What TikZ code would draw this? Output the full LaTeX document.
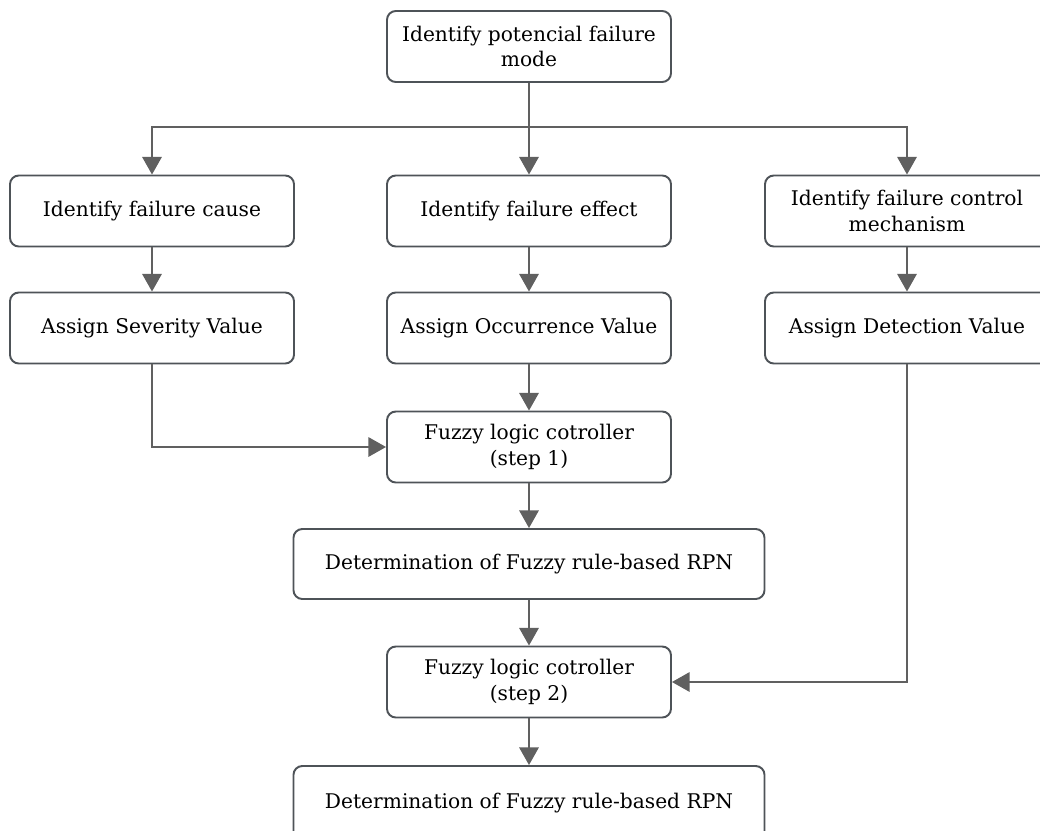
\documentclass[tikz,border=0pt]{standalone}
\usepackage{fontspec}
\setmainfont{DejaVu Serif}
\usetikzlibrary{positioning, arrows.meta}
\definecolor{boxline}{HTML}{4E5358}
\definecolor{arrline}{HTML}{606060}

\tikzset{
    stepbox/.style={draw=boxline, line width=1.1pt, rounded corners=5pt, fill=white,
        minimum width=5.68cm, minimum height=1.42cm, align=center,
        font=\fontsize{11.5}{14.5}\selectfont},
    widebox/.style={stepbox, minimum width=9.42cm, minimum height=1.4cm},
    arr/.style={draw=arrline, line width=1.1pt, -{Triangle[length=10pt,width=11pt]}}
}

\begin{document}
\begin{tikzpicture}
        \useasboundingbox (0,0) rectangle (20.8,-16.62);
        \clip (0,0) rectangle (20.8,-16.62);

        % first step
        \node[stepbox] (mode) at (10.58,-0.93) {Identify potencial failure\\mode};

        % identify row
        \node[stepbox] (cause) at (3.04,-4.22) {Identify failure cause};
        \node[stepbox] (effect) at (10.58,-4.22) {Identify failure effect};
        \node[stepbox] (control) at (18.14,-4.22) {Identify failure control\\mechanism};

        % assign row
        \node[stepbox] (sev) at (3.04,-6.56) {Assign Severity Value};
        \node[stepbox] (occ) at (10.58,-6.56) {Assign Occurrence Value};
        \node[stepbox] (det) at (18.14,-6.56) {Assign Detection Value};

        % fuzzy part
        \node[stepbox] (flc1) at (10.58,-8.94) {Fuzzy logic cotroller\\(step 1)};
        \node[widebox] (rpn1) at (10.58,-11.28) {Determination of Fuzzy rule-based RPN};
        \node[stepbox] (flc2) at (10.58,-13.64) {Fuzzy logic cotroller\\(step 2)};
        \node[widebox, minimum height=1.5cm] (rpn2) at (10.58,-16.07) {\raisebox{0.5ex}{Determination of Fuzzy rule-based RPN}};

        % arrows
        \coordinate (split) at (10.58,-2.54);
        \draw[arr] (mode) -- (effect);
        \draw[arr] (split) -| (cause);
        \draw[arr] (split) -| (control);
        \draw[arr] (cause) -- (sev);
        \draw[arr] (effect) -- (occ);
        \draw[arr] (control) -- (det);
        \draw[arr] (occ) -- (flc1);
        \draw[arr] (sev) |- (flc1);
        \draw[arr] (flc1) -- (rpn1);
        \draw[arr] (rpn1) -- (flc2);
        \draw[arr] (det) |- (flc2);
        \draw[arr] (flc2) -- (rpn2);
    \end{tikzpicture}
\end{document}
